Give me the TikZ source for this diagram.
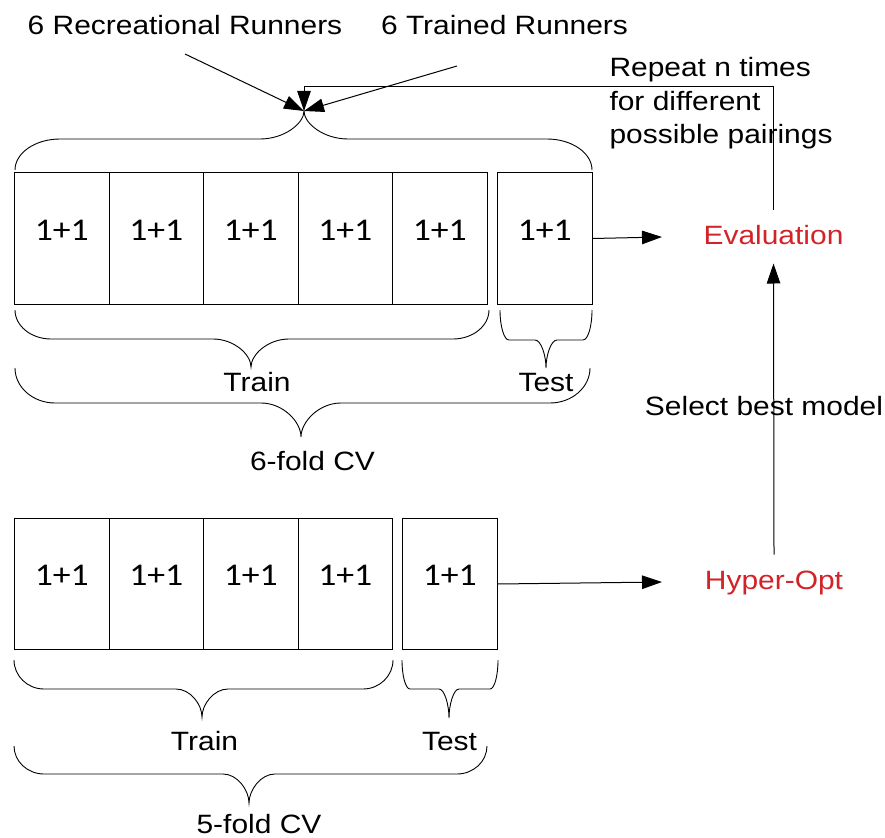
\documentclass[tikz,border=0pt]{standalone}
\usepackage{graphicx}
\usepackage{fontspec}
\setmainfont{Liberation Sans}
\newfontfamily\cellfont{Carlito}
\usetikzlibrary{arrows.meta}
\definecolor{accent}{RGB}{210,35,40}
% text is set slightly wide
\newcommand{\sx}[1]{\scalebox{1.13}[1]{#1}}
% curly brace: xL xR xTip yEnd yMid yTip rEnd rTip
\newcommand{\hbrace}[8]{%
  \draw[bracestyle] (#1,#4)
    .. controls (#1,{#4+0.55*(#5-#4)}) and ({#1+0.45*#7},#5) .. ({#1+#7},#5)
    -- ({#3-#8},#5)
    .. controls ({#3-0.45*#8},#5) and (#3,{#5+0.55*(#6-#5)}) .. (#3,#6)
    .. controls (#3,{#5+0.55*(#6-#5)}) and ({#3+0.45*#8},#5) .. ({#3+#8},#5)
    -- ({#2-#7},#5)
    .. controls ({#2-0.45*#7},#5) and (#2,{#4+0.55*(#5-#4)}) .. (#2,#4);}
\begin{document}
\begin{tikzpicture}[x=1pt,y=-1pt,line width=1pt,
  lbl/.style={font=\fontsize{26.5}{33.5}\selectfont, inner sep=0pt, anchor=base},
  redlbl/.style={lbl, text=accent, text height=19pt, text depth=0pt, inner sep=15pt},
  cell/.style={draw, line width=1pt, minimum width=94.5pt, minimum height=131.5pt,
    inner sep=0pt, font=\cellfont\fontsize{31.6}{36}\selectfont},
  toprow/.style={cell, text height=22pt, text depth=19pt},
  botrow/.style={cell, text height=21.5pt, text depth=19pt},
  arr/.style={-{Triangle[length=20pt,width=13.5pt]}, line width=1pt},
  bracestyle/.style={line width=0.9pt}]
\useasboundingbox (0,0) rectangle (885,837);

% source groups
\node[lbl] (rec) at (185,35) {\sx{6 Recreational Runners}};
\node[lbl] (trn) at (504.5,35) {\sx{6 Trained Runners}};
\node[lbl, anchor=base west] (rep1) at (609,77) {\sx{Repeat n times}};
\node[lbl, anchor=base west] (rep2) at (609,110.5) {\sx{for different}};
\node[lbl, anchor=base west] (rep3) at (609,144) {\sx{possible pairings}};

% outer split: 6 folds
\node[toprow] (t1) at (61.75,238.5) {\sx{1+1}};
\node[toprow] (t2) at (156.25,238.5) {\sx{1+1}};
\node[toprow] (t3) at (250.75,238.5) {\sx{1+1}};
\node[toprow] (t4) at (345.25,238.5) {\sx{1+1}};
\node[toprow] (t5) at (439.75,238.5) {\sx{1+1}};
\node[toprow] (t6) at (544.75,238.5) {\sx{1+1}};

% inner split: 5 folds
\node[botrow] (b1) at (61.75,584) {\sx{1+1}};
\node[botrow] (b2) at (156.25,584) {\sx{1+1}};
\node[botrow] (b3) at (250.75,584) {\sx{1+1}};
\node[botrow] (b4) at (345.25,584) {\sx{1+1}};
\node[botrow] (b5) at (449.75,584) {\sx{1+1}};

% stages
\node[redlbl] (eval) at (773.5,244) {\sx{Evaluation}};
\node[redlbl] (hyper) at (774,589) {\sx{Hyper-Opt}};
\node[lbl] (sel) at (764,415) {\sx{Select best model}};

% brace labels
\node[lbl] (trainA) at (257,391) {\sx{Train}};
\node[lbl] (testA) at (546,391) {\sx{Test}};
\node[lbl] (cvA) at (312.5,470) {\sx{6-fold CV}};
\node[lbl] (trainB) at (204.5,750) {\sx{Train}};
\node[lbl] (testB) at (449.5,750) {\sx{Test}};
\node[lbl] (cvB) at (259,833) {\sx{5-fold CV}};

% braces
\hbrace{15}{592}{304}{170}{139}{111}{45}{44}
\hbrace{15}{489}{251}{310}{339}{367}{36}{38}
\hbrace{500}{592}{546}{310}{340}{368}{9}{11}
\hbrace{15}{590}{301}{368}{403}{437}{40}{40}
\hbrace{14}{393}{202}{660}{689}{717}{30}{26}
\hbrace{402}{498}{449}{660}{689}{718}{8}{10}
\hbrace{14}{487}{249}{746}{774}{803}{30}{26}

% connectors
\coordinate (tip) at (304,111);
\coordinate (recfoot) at (185,54);
\coordinate (trnfoot) at (457,66);
\coordinate (loopc) at (304,87);
\coordinate (evalin) at (662,237);
\coordinate (hyperin) at (662,582);
\draw[arr] (recfoot) -- (tip);
\draw[arr] (trnfoot) -- (tip);
\draw[arr] (eval.north) |- (loopc) -- (tip);
\draw[arr] (t6.east) -- (evalin);
\draw[arr] (b5.east) -- (hyperin);
\draw[arr, shorten >=4pt] (hyper.north) -- (eval.south);
\end{tikzpicture}
\end{document}
